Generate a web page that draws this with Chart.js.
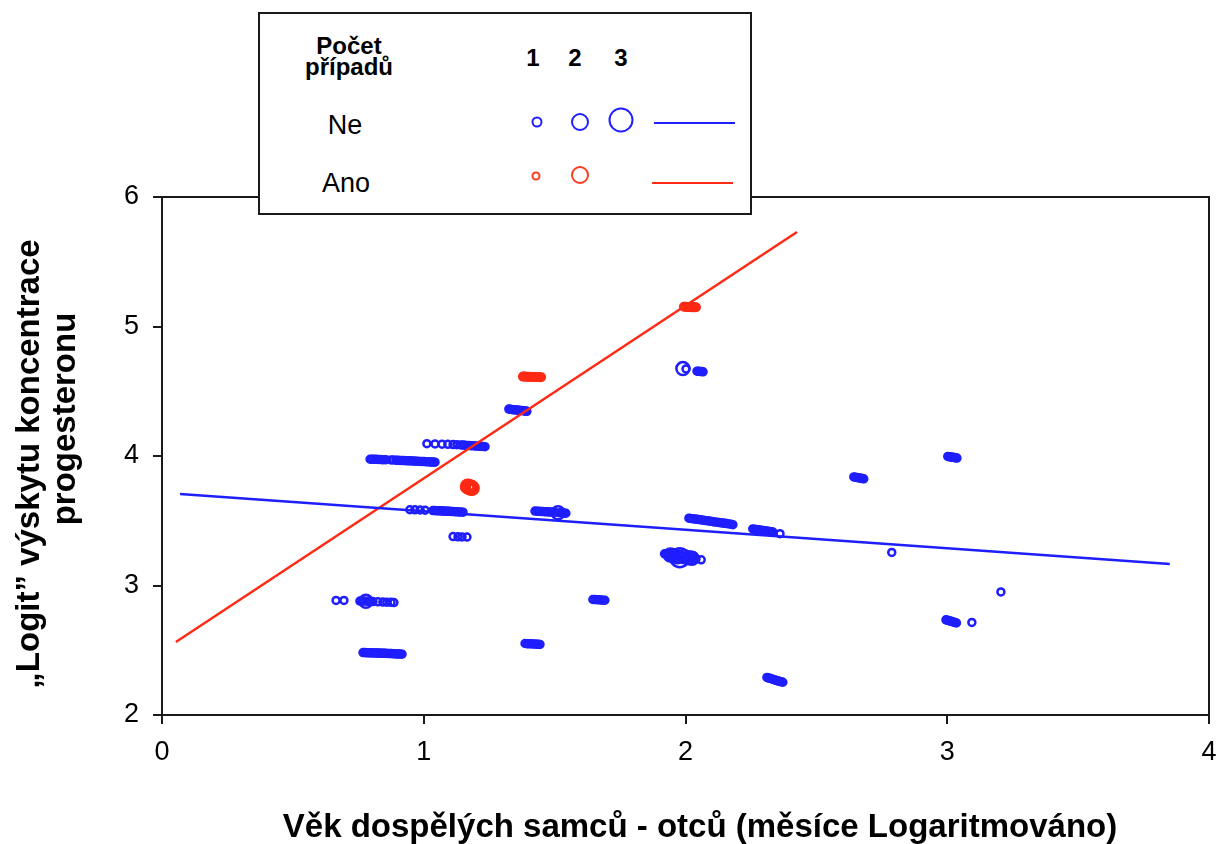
<!DOCTYPE html>
<html lang="cs">
<head>
  <meta charset="UTF-8">
  <title>Logit výskytu koncentrace progesteronu</title>
  <script src="https://cdn.jsdelivr.net/npm/chart.js"></script>
  <style>
    body { margin: 0; background: #fff; font-family: "Liberation Sans", Arial, sans-serif; }
    #wrap { position: relative; width: 1221px; height: 844px; }
    #chart { position: absolute; left: 0; top: 0; }
    #legendBox {
      position: absolute; left: 258px; top: 12px; width: 490px; height: 199px;
      border: 2px solid #1a1a1a; background: #fff;
    }
    .lbl { position: absolute; transform: translate(-50%, -50%); white-space: nowrap; color: #000; }
    .b { font-weight: bold; }
    .ring { position: absolute; border-radius: 50%; box-sizing: border-box; transform: translate(-50%, -50%); }
    .seg { position: absolute; height: 2px; }
    .ytitle {
      position: absolute; white-space: nowrap; font-weight: bold; font-size: 33px; color: #000;
      transform: translate(-50%, -50%) rotate(-90deg);
    }
  </style>
</head>
<body>
  <div id="wrap">
    <canvas id="chart" width="1221" height="844"></canvas>

    <div class="ytitle" style="left:28px; top:464px;">„Logit” výskytu koncentrace</div>
    <div class="ytitle" style="left:64px; top:419px;">progesteronu</div>
    <div class="lbl b" style="left:700px; top:826px; font-size:33px;">Věk dospělých samců - otců (měsíce Logaritmováno)</div>

    <!-- key: number of cases per marker size, and the two fitted lines -->
    <div id="legendBox"></div>
    <div class="lbl b" style="left:349px; top:46px; font-size:24px; line-height:1;">Počet</div>
    <div class="lbl b" style="left:349px; top:67px; font-size:24px; line-height:1;">případů</div>
    <div class="lbl b" style="left:533px; top:58px; font-size:24px;">1</div>
    <div class="lbl b" style="left:575px; top:58px; font-size:24px;">2</div>
    <div class="lbl b" style="left:621px; top:58px; font-size:24px;">3</div>
    <div class="lbl" style="left:345px; top:125px; font-size:27px;">Ne</div>
    <div class="lbl" style="left:346px; top:183px; font-size:27px;">Ano</div>
    <div class="ring" style="left:537px; top:122px; width:11px; height:11px; border:2px solid #2020ff;"></div>
    <div class="ring" style="left:580px; top:122px; width:18px; height:18px; border:2px solid #2020ff;"></div>
    <div class="ring" style="left:621px; top:120px; width:25px; height:25px; border:2px solid #2020ff;"></div>
    <div class="seg" style="left:654px; top:122px; width:81px; background:#2020ff;"></div>
    <div class="ring" style="left:536px; top:176px; width:9px; height:9px; border:2px solid #ff3a22;"></div>
    <div class="ring" style="left:580px; top:175px; width:18px; height:18px; border:2px solid #ff3a22;"></div>
    <div class="seg" style="left:652px; top:182px; width:81px; background:#ff2a14;"></div>
  </div>

  <script>
    // axis ticks
    const xTicks = [0, 1, 2, 3, 4];
    const yTicks = [2, 3, 4, 5, 6];

    // "Ne" group: age (log months), logit, number of cases at that point
    const neAge = [
      1.012, 1.043, 1.070, 1.092, 1.112, 1.127, 1.142, 1.150, 1.157, 1.165, 1.173, 1.180, 1.188, 1.196, 1.203, 1.211, 1.218, 1.226, 1.234,
      0.795, 0.802, 0.810, 0.818, 0.825, 0.833, 0.840, 0.848, 0.856, 0.875, 0.884, 0.894, 0.901, 0.909, 0.916, 0.924, 0.932, 0.940, 0.948, 0.955, 0.963, 0.970, 0.978, 0.986, 0.994, 1.001, 1.009, 1.016, 1.024, 1.031, 1.037, 1.043,
      0.947, 0.966, 0.986, 1.005, 1.035, 1.041, 1.047, 1.052, 1.058, 1.064, 1.070, 1.075, 1.081, 1.087, 1.092, 1.098, 1.104, 1.112, 1.119, 1.127, 1.134, 1.142, 1.150,
      1.425, 1.433, 1.440, 1.448, 1.455, 1.463, 1.471, 1.478, 1.486, 1.494, 1.501, 1.513, 1.520, 1.528, 1.536, 1.543,
      1.112, 1.131, 1.146, 1.165,
      0.665, 0.695, 0.756, 0.764, 0.772, 0.779, 0.785, 0.791, 0.798, 0.806, 0.825, 0.844, 0.859, 0.875, 0.886,
      0.768, 0.774, 0.779, 0.785, 0.791, 0.797, 0.802, 0.808, 0.814, 0.820, 0.825, 0.831, 0.837, 0.843, 0.848, 0.854, 0.859, 0.865, 0.871, 0.877, 0.882, 0.888, 0.894, 0.900, 0.905, 0.911, 0.917,
      1.646, 1.654, 1.662, 1.670, 1.677, 1.685, 1.692,
      1.387, 1.395, 1.402, 1.410, 1.417, 1.425, 1.432, 1.438, 1.444,
      1.325, 1.330, 1.336, 1.341, 1.347, 1.352, 1.358, 1.363, 1.369, 1.374, 1.380, 1.385, 1.390, 1.394,
      1.990, 2.002, 2.044, 2.050, 2.055, 2.061, 2.067,
      2.013, 2.020, 2.028, 2.036, 2.044, 2.051, 2.059, 2.066, 2.074, 2.082, 2.089, 2.097, 2.105, 2.112, 2.120, 2.128, 2.135, 2.143, 2.151, 2.158, 2.166, 2.174, 2.181,
      2.257, 2.263, 2.270, 2.276, 2.283, 2.289, 2.296, 2.302, 2.309, 2.315, 2.322, 2.328, 2.334, 2.361,
      2.788,
      2.643, 2.648, 2.654, 2.659, 2.665, 2.670, 2.676, 2.681,
      3.002, 3.007, 3.012, 3.017, 3.022, 3.027, 3.032, 3.037,
      2.995, 3.000, 3.005, 3.010, 3.015, 3.020, 3.025, 3.030, 3.035, 3.094,
      3.205,
      2.311, 2.316, 2.322, 2.327, 2.333, 2.338, 2.344, 2.349, 2.355, 2.360, 2.366, 2.372,
      1.920, 1.927, 1.935, 1.942, 1.945, 1.950, 1.955, 1.960, 1.965, 1.970, 1.978, 1.984, 1.990, 1.996, 2.000, 2.006, 2.012, 2.018, 2.025, 2.032, 2.040, 2.060
    ];
    const neLogit = [
      4.095, 4.093, 4.091, 4.090, 4.088, 4.087, 4.085, 4.084, 4.083, 4.082, 4.081, 4.080, 4.079, 4.078, 4.077, 4.076, 4.075, 4.074, 4.072,
      3.975, 3.975, 3.974, 3.974, 3.973, 3.973, 3.972, 3.972, 3.971, 3.969, 3.969, 3.968, 3.967, 3.966, 3.966, 3.965, 3.964, 3.963, 3.963, 3.962, 3.961, 3.960, 3.959, 3.958, 3.958, 3.957, 3.956, 3.955, 3.954, 3.953, 3.953, 3.952,
      3.585, 3.584, 3.583, 3.582, 3.579, 3.579, 3.578, 3.578, 3.577, 3.577, 3.576, 3.575, 3.575, 3.574, 3.573, 3.573, 3.572, 3.571, 3.570, 3.569, 3.568, 3.567, 3.566,
      3.575, 3.574, 3.573, 3.572, 3.571, 3.570, 3.569, 3.568, 3.567, 3.566, 3.565, 3.562, 3.561, 3.560, 3.559, 3.558,
      3.378, 3.376, 3.375, 3.374,
      2.885, 2.885, 2.880, 2.880, 2.880, 2.878, 2.878, 2.878, 2.877, 2.876, 2.874, 2.872, 2.871, 2.870, 2.868,
      2.482, 2.482, 2.481, 2.481, 2.480, 2.480, 2.480, 2.479, 2.479, 2.478, 2.478, 2.478, 2.477, 2.477, 2.476, 2.476, 2.475, 2.475, 2.474, 2.474, 2.473, 2.473, 2.472, 2.472, 2.471, 2.471, 2.470,
      2.892, 2.891, 2.890, 2.889, 2.888, 2.887, 2.886,
      2.552, 2.551, 2.550, 2.550, 2.549, 2.548, 2.547, 2.546, 2.545,
      4.362, 4.361, 4.359, 4.358, 4.357, 4.356, 4.355, 4.353, 4.352, 4.351, 4.350, 4.348, 4.347, 4.345,
      4.675, 4.672, 4.655, 4.654, 4.653, 4.652, 4.650,
      3.520, 3.518, 3.516, 3.513, 3.511, 3.509, 3.507, 3.504, 3.502, 3.500, 3.498, 3.496, 3.493, 3.491, 3.489, 3.487, 3.484, 3.482, 3.480, 3.478, 3.475, 3.473, 3.470,
      3.437, 3.435, 3.433, 3.431, 3.429, 3.427, 3.425, 3.423, 3.421, 3.419, 3.417, 3.415, 3.413, 3.400,
      3.255,
      3.838, 3.836, 3.834, 3.832, 3.830, 3.828, 3.826, 3.824,
      3.997, 3.995, 3.993, 3.991, 3.990, 3.988, 3.986, 3.984,
      2.735, 2.732, 2.729, 2.726, 2.723, 2.720, 2.717, 2.714, 2.711, 2.715,
      2.950,
      2.290, 2.287, 2.283, 2.280, 2.276, 2.273, 2.269, 2.266, 2.262, 2.259, 2.256, 2.253,
      3.245, 3.242, 3.238, 3.236, 3.235, 3.232, 3.230, 3.229, 3.228, 3.222, 3.215, 3.226, 3.225, 3.222, 3.220, 3.218, 3.215, 3.212, 3.210, 3.208, 3.205, 3.198
    ];
    const neCount = [
      1, 1, 1, 1, 1, 1, 1, 1, 1, 1, 1, 1, 1, 1, 1, 1, 1, 1, 1,
      1, 1, 1, 1, 1, 1, 1, 1, 1, 1, 1, 1, 1, 1, 1, 1, 1, 1, 1, 1, 1, 1, 1, 1, 1, 1, 1, 1, 1, 1, 1, 1,
      1, 1, 1, 1, 1, 1, 1, 1, 1, 1, 1, 1, 1, 1, 1, 1, 1, 1, 1, 1, 1, 1, 1,
      1, 1, 1, 1, 1, 1, 1, 1, 1, 1, 1, 2, 1, 1, 1, 1,
      1, 1, 1, 1,
      1, 1, 1, 1, 1, 2, 1, 1, 1, 1, 1, 1, 1, 1, 1,
      1, 1, 1, 1, 1, 1, 1, 1, 1, 1, 1, 1, 1, 1, 1, 1, 1, 1, 1, 1, 1, 1, 1, 1, 1, 1, 1,
      1, 1, 1, 1, 1, 1, 1,
      1, 1, 1, 1, 1, 1, 1, 1, 1,
      1, 1, 1, 1, 1, 1, 1, 1, 1, 1, 1, 1, 1, 1,
      2, 1, 1, 1, 1, 1, 1,
      1, 1, 1, 1, 1, 1, 1, 1, 1, 1, 1, 1, 1, 1, 1, 1, 1, 1, 1, 1, 1, 1, 1,
      1, 1, 1, 1, 1, 1, 1, 1, 1, 1, 1, 1, 1, 1,
      1,
      1, 1, 1, 1, 1, 1, 1, 1,
      1, 1, 1, 1, 1, 1, 1, 1,
      1, 1, 1, 1, 1, 1, 1, 1, 1, 1,
      1,
      1, 1, 1, 1, 1, 1, 1, 1, 1, 1, 1, 1,
      1, 1, 1, 2, 1, 1, 2, 1, 1, 2, 3, 1, 1, 2, 1, 1, 2, 1, 2, 1, 1, 1
    ];

    // "Ano" group
    const anoAge = [
      1.168, 1.172, 1.176, 1.180, 1.184, 1.188, 1.178, 1.182,
      1.379, 1.384, 1.390, 1.396, 1.402, 1.407, 1.413, 1.419, 1.425, 1.430, 1.436, 1.442, 1.448,
      1.994, 1.999, 2.005, 2.011, 2.017, 2.022, 2.028, 2.034, 2.040
    ];
    const anoLogit = [
      3.765, 3.762, 3.758, 3.755, 3.752, 3.760, 3.757, 3.762,
      4.613, 4.613, 4.612, 4.612, 4.612, 4.611, 4.611, 4.610, 4.610, 4.610, 4.610, 4.609, 4.609,
      5.152, 5.152, 5.151, 5.150, 5.150, 5.149, 5.149, 5.148, 5.148
    ];
    const anoCount = [
      2, 2, 2, 2, 2, 1, 1, 1,
      1, 1, 1, 1, 1, 1, 1, 1, 1, 1, 1, 1, 1,
      1, 1, 1, 1, 1, 1, 1, 1, 1
    ];

    // fitted lines (end points)
    const neFitAge = [0.069, 3.85];
    const neFitLogit = [3.707, 3.166];
    const anoFitAge = [0.053, 2.426];
    const anoFitLogit = [2.564, 5.730];

    const BLUE = "#1e1eff";
    const RED = "#ff2a14";
    const neRadius = { 1: 3.5, 2: 6.5, 3: 9.5 };
    const anoRadius = { 1: 3.5, 2: 6.5 };

    const toPoints = (xs, ys) => xs.map((x, i) => ({ x: x, y: ys[i] }));

    // closes the box on the top and right side of the plot
    const frame = {
      id: "frame",
      afterDraw(chart) {
        const { ctx, chartArea: a } = chart;
        ctx.save();
        ctx.strokeStyle = "#1a1a1a";
        ctx.lineWidth = 2;
        ctx.beginPath();
        ctx.moveTo(a.left, a.top);
        ctx.lineTo(a.right, a.top);
        ctx.lineTo(a.right, a.bottom);
        ctx.stroke();
        ctx.restore();
      }
    };

    const tickFont = { family: "'Liberation Sans', Arial, sans-serif", size: 27 };

    new Chart(document.getElementById("chart").getContext("2d"), {
      type: "scatter",
      data: {
        datasets: [
          {
            label: "Ne",
            data: toPoints(neAge, neLogit),
            pointStyle: "circle",
            backgroundColor: "rgba(0,0,0,0)",
            borderColor: BLUE,
            borderWidth: 2.5,
            pointRadius: neCount.map(n => neRadius[n]),
            order: 2
          },
          {
            label: "Ano",
            data: toPoints(anoAge, anoLogit),
            pointStyle: "circle",
            backgroundColor: "rgba(0,0,0,0)",
            borderColor: RED,
            borderWidth: 3,
            pointRadius: anoCount.map(n => anoRadius[n]),
            order: 2
          },
          {
            type: "line",
            label: "Ne fit",
            data: toPoints(neFitAge, neFitLogit),
            borderColor: BLUE,
            borderWidth: 2.5,
            pointRadius: 0,
            fill: false,
            order: 1
          },
          {
            type: "line",
            label: "Ano fit",
            data: toPoints(anoFitAge, anoFitLogit),
            borderColor: RED,
            borderWidth: 2.5,
            pointRadius: 0,
            fill: false,
            order: 1
          }
        ]
      },
      options: {
        responsive: false,
        animation: false,
        layout: { padding: { top: 197, right: 11, left: 0, bottom: 0 } },
        plugins: { legend: { display: false }, tooltip: { enabled: false } },
        scales: {
          x: {
            type: "linear",
            min: xTicks[0],
            max: xTicks[xTicks.length - 1],
            afterBuildTicks: s => { s.ticks = xTicks.map(v => ({ value: v })); },
            afterFit: s => { s.height = 129; s.paddingLeft = 0; s.paddingRight = 0; },
            ticks: { color: "#000", font: tickFont, padding: 12 },
            grid: { display: true, drawOnChartArea: false, drawTicks: true, tickLength: 9, color: "#1a1a1a", lineWidth: 2 },
            border: { display: true, color: "#1a1a1a", width: 2 }
          },
          y: {
            type: "linear",
            min: yTicks[0],
            max: yTicks[yTicks.length - 1],
            afterBuildTicks: s => { s.ticks = yTicks.map(v => ({ value: v })); },
            afterFit: s => { s.width = 162; s.paddingTop = 0; s.paddingBottom = 0; },
            ticks: { color: "#000", font: tickFont, padding: 14 },
            grid: { display: true, drawOnChartArea: false, drawTicks: true, tickLength: 9, color: "#1a1a1a", lineWidth: 2 },
            border: { display: true, color: "#1a1a1a", width: 2 }
          }
        }
      },
      plugins: [frame]
    });
  </script>
</body>
</html>
